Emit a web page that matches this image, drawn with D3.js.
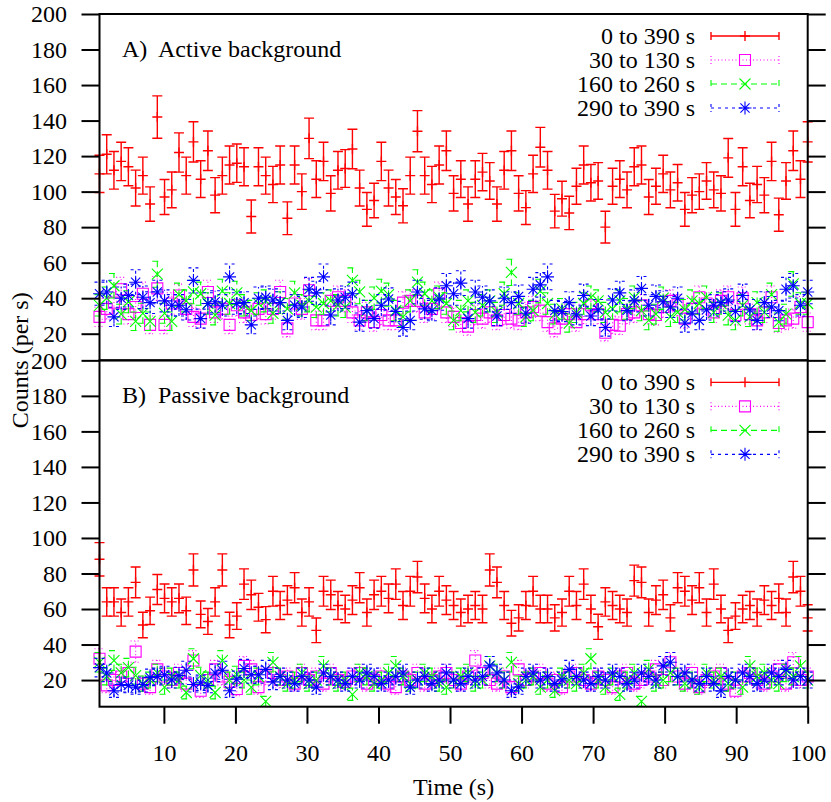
<!DOCTYPE html>
<html>
<head>
<meta charset="utf-8">
<script src="https://cdn.jsdelivr.net/npm/d3@7"></script>
<style>
  body { margin: 0; background: #fff; }
  svg { display: block; font-family: 'Liberation Serif', 'Times New Roman', serif; }
  text { white-space: pre; }
</style>
</head>
<body>
<svg width="831" height="802"></svg>
<script>
// counts per s, one value per time bin
var activeAll = [110, 121, 112, 117, 114, 102, 109, 93, 142, 97, 101, 122, 109, 128, 107, 123, 98, 109, 115, 116,
  114, 86, 114, 109, 104, 115, 85, 115, 100, 130, 107, 117, 99, 112, 113, 124, 102, 90, 95, 117,
  102, 97, 92, 109, 134, 109, 104, 115, 123, 99, 107, 93, 107, 111, 106, 93, 112, 123, 99, 91,
  110, 125, 112, 89, 96, 88, 103, 115, 105, 106, 80, 103, 107, 101, 114, 115, 97, 103, 110, 101,
  105, 90, 98, 100, 106, 101, 99, 119, 90, 114, 95, 104, 98, 117, 87, 106, 123, 107, 128];
var activeEarly = [29.5, 34, 37.5, 45, 31, 35, 42.5, 25, 45.5, 25, 37, 41.5, 34, 29.5, 28.5, 43.5, 32, 34, 25, 36,
  32, 30.5, 34, 31, 34, 43.5, 23, 37, 34, 44.5, 27.5, 27.5, 38.5, 40.5, 38.5, 32, 27.5, 32, 26.5, 30.5,
  27.5, 27.5, 37.5, 38.5, 38.5, 32, 34, 42.5, 32, 29.5, 26, 24, 30.5, 28.5, 32, 27.5, 30.5, 28.5, 27.5, 32,
  35, 33, 26.5, 23, 28.5, 31, 26.5, 31, 36, 31, 20.5, 25, 24.5, 31, 32, 36, 31, 30.5, 35, 38.5,
  36, 28.5, 34, 40.5, 37, 32, 38.5, 40.5, 30.5, 40, 31, 27.5, 32, 40.5, 26, 27.5, 28.5, 35, 26.5];
var activeMid = [36, 40, 47, 31, 38, 27, 31.5, 27, 53.5, 31.5, 27, 42, 38.5, 43.5, 42.5, 37, 30.5, 44, 37, 43,
  36, 33, 37, 38.5, 31.5, 37.5, 34, 43, 36, 38.5, 35, 37, 38.5, 36, 35, 50, 43.5, 33, 40, 44,
  42, 33, 29.5, 38.5, 49, 42.5, 38.5, 40.5, 37, 27.5, 33, 38.5, 32, 36, 38.5, 32, 42.5, 54.5, 37, 29.5,
  33, 44, 37, 31, 34, 26, 32, 37, 40.5, 38.5, 32, 34, 38.5, 34, 40.5, 33, 27.5, 31, 40, 29.5,
  32, 33.5, 38.5, 37, 40.5, 32, 37, 30.5, 27.5, 36, 29.5, 37.5, 32, 42, 26.5, 31, 48, 37, 37];
var activeLate = [42.5, 43.5, 29.5, 40, 41.5, 49, 40.5, 37.5, 43.5, 38.5, 36, 36, 33.5, 50, 28.5, 37, 38, 36, 52, 37,
  37.5, 25, 40, 40.5, 39, 37.5, 27.5, 36, 35, 45, 43, 52, 30.5, 39, 40.5, 42.5, 26.5, 33, 28.5, 36,
  39.5, 32.5, 23.5, 27.5, 43.5, 34, 33, 39.5, 47, 42.5, 48.5, 28.5, 43.5, 40.5, 38.5, 30, 40, 37.5, 41, 31.5,
  45, 47.5, 52, 33, 32.5, 37.5, 30.5, 41.5, 30, 33.5, 23.5, 39, 43, 33, 38.5, 45.5, 36, 41, 38, 35,
  40, 26, 31.5, 27.5, 33.5, 36, 37.5, 39, 32.5, 41.5, 33.5, 27.5, 37.5, 35, 33, 45, 47, 36, 43.5];

var passiveAll = [88, 64, 64, 58, 64, 75, 51, 59, 71, 66, 64, 66, 59, 82, 57, 53, 64, 82, 51, 56,
  74, 68, 61, 54, 70, 62, 65, 72, 58, 64, 48, 70, 68, 62, 60, 65, 72, 58, 68, 70,
  66, 74, 62, 70, 78, 66, 60, 70, 65, 62, 58, 60, 62, 60, 82, 75, 62, 52, 55, 62,
  70, 60, 60, 55, 58, 70, 62, 74, 60, 50, 64, 62, 60, 58, 76, 75, 58, 65, 68, 55,
  72, 70, 65, 72, 58, 74, 60, 48, 56, 60, 62, 58, 65, 62, 66, 58, 78, 70, 55];
var passiveEarly = [32, 17, 20, 22, 24, 36, 18, 16, 26, 22, 20, 24, 18, 31, 14, 20, 26, 22, 19, 15,
  28, 26, 16, 22, 24, 20, 22, 18, 24, 20, 22, 18, 24, 20, 19, 22, 24, 18, 20, 22,
  18, 16, 22, 20, 24, 18, 20, 22, 24, 20, 18, 22, 31, 24, 20, 18, 22, 16, 26, 20,
  22, 24, 18, 20, 16, 22, 24, 20, 18, 22, 20, 16, 22, 24, 18, 20, 22, 26, 20, 30,
  22, 18, 24, 16, 20, 22, 24, 18, 14, 22, 24, 20, 18, 22, 26, 18, 30, 20, 22];
var passiveMid = [30, 22, 31, 24, 27, 22.5, 18, 20, 24, 16, 22, 20, 13, 32, 22.5, 20, 13, 31, 20, 23,
  20, 16, 22, 8, 30, 22, 18, 20, 24, 18, 20, 28, 22, 18, 20, 12, 24, 22, 18, 20,
  24, 28, 22, 18, 20, 24, 22, 18, 16, 20, 22, 24, 18, 20, 28, 24, 20, 30, 18, 20,
  22, 16, 20, 14, 22, 20, 18, 24, 32, 20, 16, 22, 12, 20, 24, 8, 26, 18, 20, 24,
  22, 18, 20, 16, 24, 20, 22, 18, 20, 16, 28, 22, 24, 20, 18, 24, 22, 28, 20];
var passiveLate = [27, 24, 14, 17.5, 17, 16, 17.5, 21.5, 22, 23, 20, 22.5, 25.5, 17.5, 18.5, 17, 24, 25.5, 14, 20.5,
  26.5, 23, 23, 26, 19, 22, 20, 18, 22, 20, 16, 24, 22, 20, 18, 22, 20, 24, 22, 18,
  20, 22, 24, 16, 20, 22, 18, 20, 24, 20, 18, 22, 20, 22, 28, 24, 20, 14, 16, 22,
  24, 20, 22, 18, 20, 26, 22, 20, 18, 22, 20, 24, 22, 18, 20, 24, 22, 20, 28, 30,
  22, 24, 20, 18, 22, 18, 14, 22, 20, 24, 22, 18, 20, 24, 22, 26, 20, 22, 20];

var seriesNames = ['0 to 390 s', '30 to 130 s', '160 to 260 s', '290 to 390 s'];
var panelTitles = ['A)  Active background', 'B)  Passive background'];
var xTickValues = [10, 20, 30, 40, 50, 60, 70, 80, 90, 100];
var yTickValues = [20, 40, 60, 80, 100, 120, 140, 160, 180, 200];

var panels = [
  { title: panelTitles[0], series: [activeAll, activeEarly, activeMid, activeLate] },
  { title: panelTitles[1], series: [passiveAll, passiveEarly, passiveMid, passiveLate] }
];

// drawing styles for the four series (gnuplot look)
var styles = [
  { color: '#ff0000', dash: null, marker: 'plus' },
  { color: '#ff00ff', dash: '1,2.5', marker: 'square' },
  { color: '#00ff00', dash: '6,4', marker: 'cross' },
  { color: '#0000ff', dash: '3,4', marker: 'star' }
];
var markerPaths = {
  plus: 'M-5,0H5M0,-5V5',
  square: 'M-5.5,-5.5h11v11h-11z',
  cross: 'M-5.5,-5.5L5.5,5.5M-5.5,5.5L5.5,-5.5',
  star: 'M-6.5,0H6.5M0,-6.5V6.5M-4.6,-4.6L4.6,4.6M-4.6,4.6L4.6,-4.6'
};

var svg = d3.select('svg');
var frame = { l: 99.5, r: 807.7, t: 14, b: 706.7 };
var panelHeight = (frame.b - frame.t) / 2;
var capHalf = 5;
var tickLen = 18;

var xScale = d3.scaleLinear()
  .domain([1, 100])
  .range([frame.l, frame.r]);
var binScale = d3.scalePoint()
  .domain(d3.range(activeAll.length))
  .range([frame.l, frame.r]);

panels.forEach(function(panel, p) {
  var top = frame.t + p * panelHeight;
  var yScale = d3.scaleLinear()
    .domain([5, 200])
    .range([top + panelHeight, top]);

  var panelG = svg.append('g').attr('class', 'panel');

  // data: error bars + markers
  panel.series.forEach(function(values, s) {
    var st = styles[s];
    var g = panelG.append('g')
      .attr('class', 'series')
      .style('stroke', st.color)
      .style('fill', 'none')
      .style('stroke-width', s == 0 ? 1.4 : 1.1);
    var pts = g.selectAll('.pt')
      .data(values)
      .enter()
      .append('g')
      .attr('class', 'pt')
      .attr('transform', (d, i) => 'translate(' + [binScale(i), 0] + ')');
    var bars = pts.append('path')
      .attr('d', function(d) {
        var err = Math.sqrt(d);
        var y0 = yScale(d - err), y1 = yScale(d + err);
        return 'M0,' + y0 + 'V' + y1 +
          'M' + (-capHalf) + ',' + y0 + 'H' + capHalf +
          'M' + (-capHalf) + ',' + y1 + 'H' + capHalf;
      });
    if (st.dash) bars.style('stroke-dasharray', st.dash);
    pts.append('path')
      .attr('transform', d => 'translate(' + [0, yScale(d)] + ')')
      .attr('d', markerPaths[st.marker]);
  });

  // legend
  var legG = panelG.append('g')
    .attr('transform', 'translate(' + [0, top + 22] + ')');
  seriesNames.forEach(function(name, s) {
    var st = styles[s];
    var row = legG.append('g').attr('transform', 'translate(' + [0, s * 24] + ')');
    row.append('text')
      .attr('x', 695)
      .attr('y', 0)
      .attr('dy', '0.33em')
      .attr('text-anchor', 'end')
      .style('font-size', '24px')
      .text(name);
    var line = row.append('path')
      .attr('d', 'M711,0H779M711,-4V4M779,-4V4')
      .style('stroke', st.color)
      .style('fill', 'none')
      .style('stroke-width', s == 0 ? 1.4 : 1.1);
    if (st.dash) line.style('stroke-dasharray', st.dash);
    row.append('path')
      .attr('transform', 'translate(745,0)')
      .attr('d', markerPaths[st.marker])
      .style('stroke', st.color)
      .style('fill', 'none')
      .style('stroke-width', s == 0 ? 1.4 : 1.1);
  });

  panelG.append('text')
    .attr('x', 122)
    .attr('y', top + 43)
    .style('font-size', '24px')
    .text(panel.title);

  // axes
  var yAxisG = panelG.append('g')
    .attr('class', 'axis')
    .attr('transform', 'translate(' + [frame.l, 0] + ')')
    .call(d3.axisLeft(yScale).tickValues(yTickValues).tickSize(tickLen).tickPadding(14.5));
  var yAxisR = panelG.append('g')
    .attr('class', 'axis')
    .attr('transform', 'translate(' + [frame.r, 0] + ')')
    .call(d3.axisRight(yScale).tickValues(yTickValues).tickSize(tickLen).tickFormat(''));

  panelG.append('rect')
    .attr('x', frame.l)
    .attr('y', top)
    .attr('width', frame.r - frame.l)
    .attr('height', panelHeight)
    .style('fill', 'none')
    .style('stroke', '#000')
    .style('stroke-width', 2);
});

var xAxisG = svg.append('g')
  .attr('class', 'axis')
  .attr('transform', 'translate(' + [0, frame.b] + ')')
  .call(d3.axisBottom(xScale).tickValues(xTickValues).tickSize(17).tickPadding(20));

svg.selectAll('.axis .domain').remove();
svg.selectAll('.axis line').style('stroke', '#000').style('stroke-width', 2);
svg.selectAll('.axis text')
  .style('font-family', "'Liberation Serif', 'Times New Roman', serif")
  .style('font-size', '24px')
  .style('fill', '#000');

svg.append('text')
  .attr('transform', 'translate(' + [28, (frame.t + frame.b) / 2] + ') rotate(-90)')
  .attr('text-anchor', 'middle')
  .style('font-size', '24px')
  .text('Counts (per s)');

svg.append('text')
  .attr('x', (frame.l + frame.r) / 2)
  .attr('y', 795)
  .attr('text-anchor', 'middle')
  .style('font-size', '24px')
  .text('Time (s)');
</script>
</body>
</html>
